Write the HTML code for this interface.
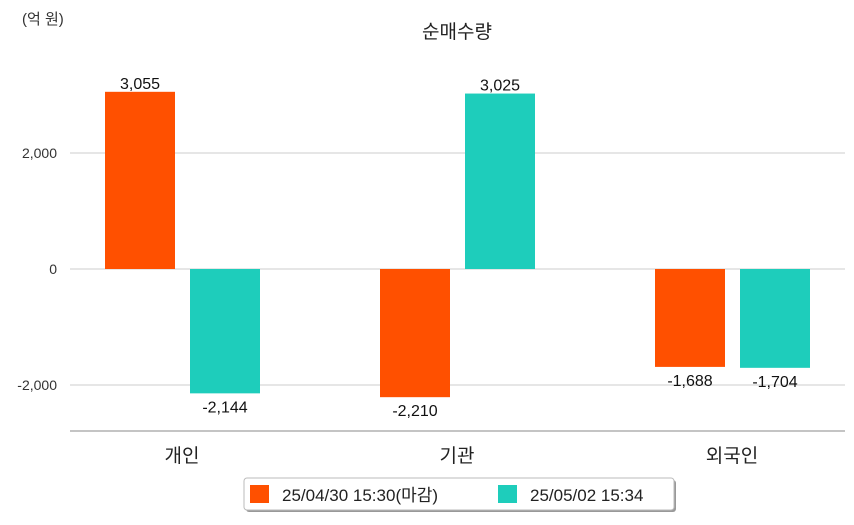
<!DOCTYPE html>
<html><head><meta charset="utf-8"><style>
body{margin:0;background:#fff;width:854px;height:520px;overflow:hidden;font-family:"Liberation Sans","Noto Sans CJK KR",sans-serif}
</style></head><body>
<svg id="c" width="854" height="520" style="font-family:'Liberation Sans','Noto Sans CJK KR',sans-serif">
<text x="22" y="24" font-size="15" fill="#333">(억 원)</text>
<text x="457" y="38" font-size="19" fill="#222" text-anchor="middle">순매수량</text>
<g id="grid"></g><g id="bars"></g>
<line x1="70" y1="431" x2="845" y2="431" stroke="#888" stroke-width="1"/>
<g>
<rect x="246" y="480" width="430" height="32" rx="3" fill="#999" />
<rect x="244" y="478" width="430" height="32" rx="3" fill="#fff" stroke="#bbb"/>
<rect x="250" y="485" width="19" height="18" fill="#ff5000"/>
<text x="282" y="501" font-size="17" fill="#222">25/04/30 15:30(마감)</text>
<rect x="498" y="485" width="19" height="18" fill="#1ecdbb"/>
<text x="530" y="501" font-size="17" fill="#222">25/05/02 15:34</text>
</g>
</svg>
<script>
const categories=["개인","기관","외국인"];
const series1=[3055,-2210,-1688];
const series2=[-2144,3025,-1704];
const ticks=[2000,0,-2000];
const NS="http://www.w3.org/2000/svg";
const y=v=>269-v*0.058;
const cx=i=>182+i*275;
const svg=document.getElementById('c');
const grid=document.getElementById('grid'),bars=document.getElementById('bars');
function mk(tag,a,p){const e=document.createElementNS(NS,tag);for(const k in a)e.setAttribute(k,a[k]);p.appendChild(e);return e;}
ticks.forEach(t=>{
 const l=mk('line',{x1:70,x2:845,y1:y(t),y2:y(t),stroke:'#ccc'},grid);
 
 
 const tx=mk('text',{x:57,y:y(t)+5,'font-size':14,fill:'#333','text-anchor':'end'},grid);
 tx.textContent=t.toLocaleString('en-US');
 
 
});
const fmt=v=>v.toLocaleString('en-US');
categories.forEach((c,i)=>{
 [[series1,'#ff5000',-77],[series2,'#1ecdbb',8]].forEach(([s,col,off],j)=>{
  const v=s[i],x=cx(i)+off,top=Math.min(y(v),y(0)),h=Math.abs(y(v)-y(0));
  const r=mk('rect',{x:x,y:top,width:70,height:h,fill:col},bars);
  
  
  const t=mk('text',{x:x+35,y:v>=0?top-3:top+h+19,'font-size':16,fill:'#111','text-anchor':'middle'},bars);
  t.textContent=fmt(v);
  
  
 });
 const lb=mk('text',{x:cx(i),y:462,'font-size':19,fill:'#222','text-anchor':'middle'},bars);
 lb.textContent=c;
 
 
});
</script>
</body></html>
